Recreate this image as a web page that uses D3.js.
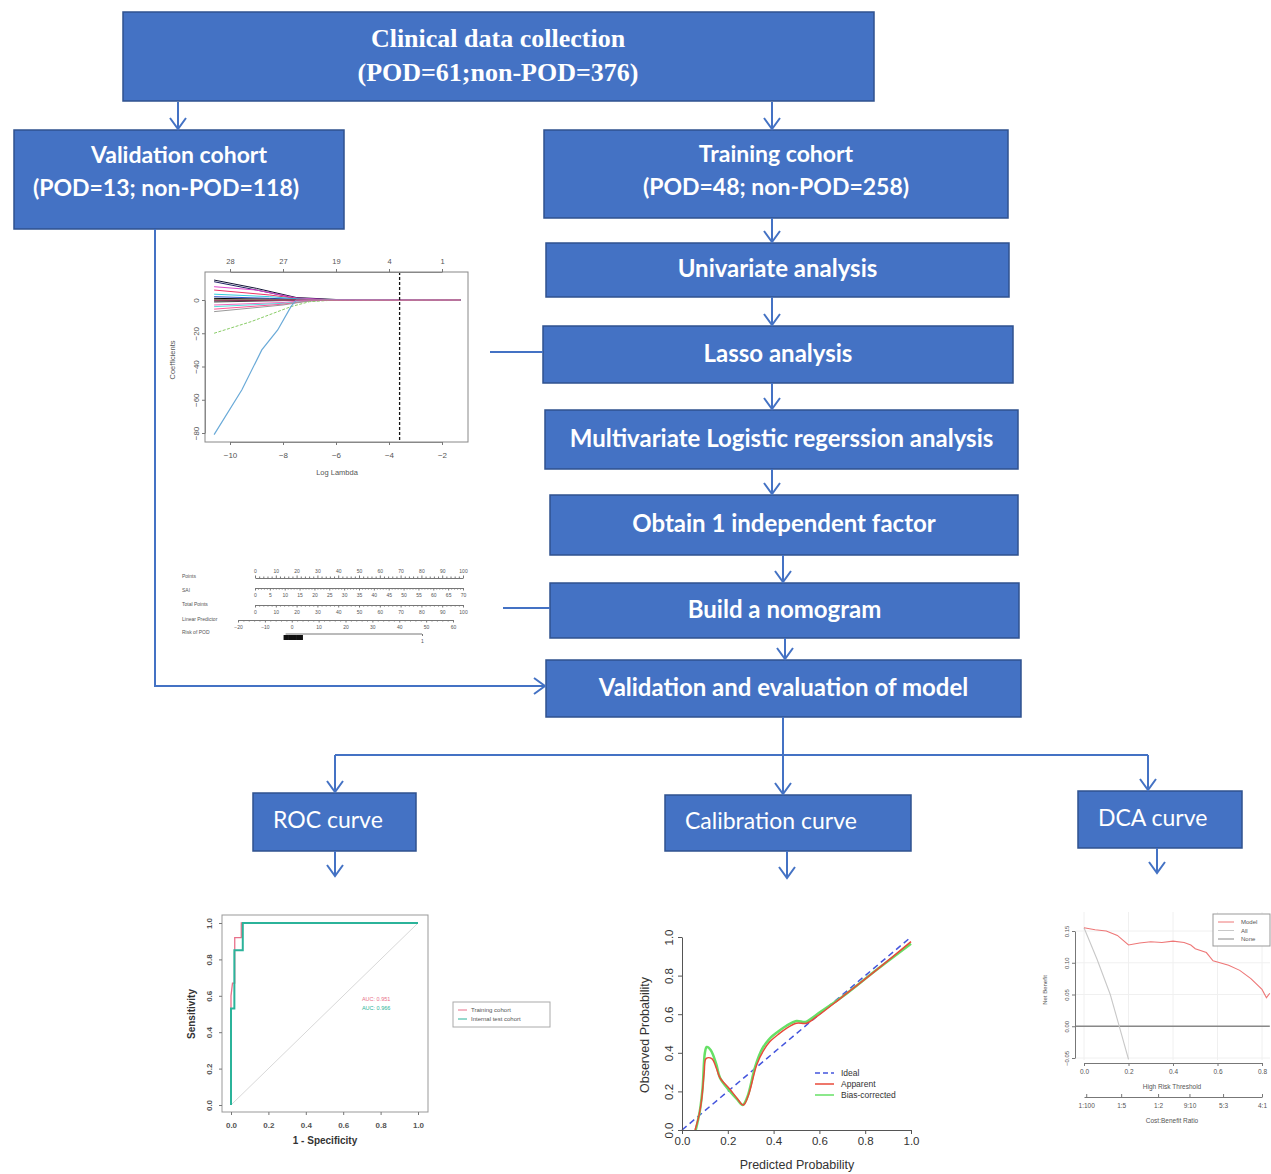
<!DOCTYPE html>
<html>
<head>
<meta charset="utf-8">
<script src="https://cdnjs.cloudflare.com/ajax/libs/d3/7.8.5/d3.min.js"></script>
<style>
body { margin: 0; background: #fff; }
svg text { font-family: "Liberation Sans", Arial, sans-serif; }
.box-text { font-family: Lato, "Open Sans", sans-serif; fill: #fff; }
.tiny text { fill: #555; }
.tiny path, .tiny line { stroke: #777; }
</style>
</head>
<body>
<div id="chart"></div>
<script>
// ---------- flow chart texts ----------
var headerLines = ["Clinical data collection", "(POD=61;non-POD=376)"];
var validationLines = ["Validation cohort", "(POD=13; non-POD=118)"];
var trainingLines = ["Training cohort", "(POD=48; non-POD=258)"];
var stepLabels = ["Univariate analysis", "Lasso analysis", "Multivariate Logistic regerssion analysis",
	"Obtain 1 independent factor", "Build a nomogram", "Validation and evaluation of model"];
var outcomeLabels = ["ROC curve", "Calibration curve", "DCA curve"];

// ---------- lasso coefficient paths ----------
var lassoTopLabels = ["28", "27", "19", "4", "1"];
var lassoXTicks = [-10, -8, -6, -4, -2];
var lassoYTicks = [0, -20, -40, -60, -80];
var lassoLambdaMin = -3.6;
var lassoPaths = [
	[[-10.6, 12], [-9, 7], [-7.5, 1.5], [-6, 0.3], [-1.3, 0]],
	[[-10.6, 11], [-9, 6], [-7.5, 1], [-6, 0], [-1.3, 0]],
	[[-10.6, 8], [-9, 6], [-7.5, 1.2], [-6, 0], [-1.3, 0]],
	[[-10.6, 6], [-8.5, 3], [-7.3, 0.5], [-6, 0], [-1.3, 0]],
	[[-10.6, 3.5], [-8.5, 2], [-7.3, 0.5], [-6, 0], [-1.3, 0]],
	[[-10.6, 2], [-8.5, 1], [-7.3, 0.3], [-1.3, 0]],
	[[-10.6, 1], [-7.5, 0.2], [-1.3, 0]],
	[[-10.6, 0.3], [-7.5, 0.1], [-1.3, 0]],
	[[-10.6, -0.5], [-7.5, -0.1], [-1.3, 0]],
	[[-10.6, -1.2], [-7.5, -0.2], [-1.3, 0]],
	[[-10.6, -3], [-8, -1.5], [-7, 0], [-1.3, 0]],
	[[-10.6, -4], [-8, -2], [-7, -0.5], [-6, 0], [-1.3, 0]],
	[[-10.6, -5.5], [-8, -2.5], [-7, -0.5], [-6, 0], [-1.3, 0]],
	[[-10.6, -7], [-8, -3], [-7, -0.5], [-6, 0], [-1.3, 0]],
	[[-10.6, -20], [-9.2, -13], [-7.7, -4], [-7, -1], [-6, 0], [-1.3, 0]],
	[[-10.6, -81], [-9.55, -54], [-8.8, -30], [-8.2, -18], [-7.7, -4], [-7.5, 0], [-6, 0.2], [-1.3, 0]],
	[[-10.6, 0], [-4, 0], [-1.3, 0]]
];
var lassoColors = ["#111133", "#222266", "#dd44cc", "#ee3366", "#33ccdd", "#3355cc", "#000000", "#22aa44",
	"#000000", "#444444", "#ee66bb", "#55dddd", "#ff5599", "#999999", "#88cc66", "#6aaad8", "#ee4488"];

// ---------- nomogram ----------
var nomoRows = ["Points", "SAI", "Total Points", "Linear Predictor", "Risk of POD"];
var pointsTicks = [0, 10, 20, 30, 40, 50, 60, 70, 80, 90, 100];
var saiTicks = [0, 5, 10, 15, 20, 25, 30, 35, 40, 45, 50, 55, 60, 65, 70];
var totalTicks = [0, 10, 20, 30, 40, 50, 60, 70, 80, 90, 100];
var lpTicks = [-20, -10, 0, 10, 20, 30, 40, 50, 60];
var riskTicks = [0.001, 0.005, 0.01, 0.02, 0.03, 0.04, 0.05, 0.06, 0.07, 0.08, 0.09, 0.1, 0.11];
var riskEnd = [1];

// ---------- ROC ----------
var rocTraining = [[0, 0], [0, 0.6], [0.008, 0.67], [0.02, 0.67], [0.02, 0.92], [0.055, 0.92], [0.055, 1], [1, 1]];
var rocTest = [[0, 0], [0, 0.53], [0.018, 0.53], [0.018, 0.85], [0.063, 0.85], [0.063, 1], [1, 1]];
var rocTicks = [0, 0.2, 0.4, 0.6, 0.8, 1.0];
var aucLabels = ["AUC: 0.951", "AUC: 0.966"];
var rocLegend = ["Training cohort", "Internal test cohort"];

// ---------- calibration ----------
var calApparent = [[0.057, 0], [0.075, 0.08], [0.086, 0.16], [0.097, 0.3], [0.105, 0.37], [0.13, 0.37],
	[0.15, 0.32], [0.166, 0.27], [0.21, 0.21], [0.24, 0.165], [0.268, 0.13], [0.29, 0.18], [0.326, 0.337],
	[0.355, 0.41], [0.384, 0.458], [0.42, 0.495], [0.456, 0.527], [0.5, 0.553], [0.544, 0.553],
	[0.588, 0.587], [0.7, 0.69], [0.85, 0.83], [1, 0.976]];
var calBias = [[0.06, 0], [0.078, 0.1], [0.09, 0.22], [0.1, 0.4], [0.108, 0.43], [0.125, 0.415],
	[0.15, 0.34], [0.166, 0.27], [0.21, 0.2], [0.24, 0.16], [0.265, 0.13], [0.285, 0.17], [0.32, 0.33],
	[0.35, 0.42], [0.38, 0.47], [0.42, 0.51], [0.456, 0.54], [0.5, 0.565], [0.54, 0.56],
	[0.59, 0.6], [0.7, 0.69], [0.85, 0.83], [1, 0.965]];
var calIdeal = [[0, 0], [1, 1]];
var calTicks = [0, 0.2, 0.4, 0.6, 0.8, 1.0];
var calLegend = ["Ideal", "Apparent", "Bias-corrected"];

// ---------- DCA ----------
var dcaModel = [[0, 0.155], [0.05, 0.152], [0.1, 0.15], [0.15, 0.143], [0.2, 0.128], [0.25, 0.131],
	[0.3, 0.133], [0.35, 0.132], [0.4, 0.134], [0.45, 0.132], [0.48, 0.128], [0.5, 0.122], [0.55, 0.116],
	[0.58, 0.103], [0.65, 0.096], [0.7, 0.088], [0.75, 0.075], [0.8, 0.058], [0.82, 0.045], [0.835, 0.052]];
var dcaAll = [[0, 0.155], [0.059, 0.105], [0.118, 0.05], [0.156, 0.003], [0.2, -0.052]];
var dcaNone = [[-0.04, 0], [0.835, 0]];
var dcaXTicks = [0, 0.2, 0.4, 0.6, 0.8];
var dcaYTicks = [-0.05, 0, 0.05, 0.10, 0.15];
var dcaCostLabels = ["1:100", "1:5", "1:2", "9:10", "5:3", "4:1"];
var dcaCostThresholds = [0.01, 0.167, 0.333, 0.474, 0.625, 0.8];
var dcaLegend = ["Model", "All", "None"];

// ============================================================
var W = 1271, H = 1174;
var blue = "#4472C4", edge = "#2F528F";

var svg = d3.select("#chart").append("svg")
	.attr("width", W)
	.attr("height", H);

function box(x, y, w, h) {
	svg.append("rect")
		.attr("x", x).attr("y", y)
		.attr("width", w).attr("height", h)
		.attr("fill", blue)
		.attr("stroke", edge)
		.attr("stroke-width", 1.5);
}

// cx may be one number or one per line
function boxText(lines, cx, ys, size, weight, family, anchor) {
	lines.forEach(function(t, i) {
		var el = svg.append("text")
			.attr("class", "box-text")
			.attr("x", Array.isArray(cx) ? cx[i] : cx).attr("y", ys[i])
			.attr("dy", "0.35em")
			.attr("text-anchor", anchor || "middle")
			.attr("font-size", size)
			.attr("font-weight", weight)
			.text(t);
		if (family) el.style("font-family", family);
	});
}

// line with open chevron head at the end
function arrow(pts, head) {
	svg.append("path")
		.attr("d", d3.line()(pts))
		.attr("fill", "none")
		.attr("stroke", blue)
		.attr("stroke-width", 2);
	if (!head) return;
	var p1 = pts[pts.length - 2], p2 = pts[pts.length - 1];
	var a = Math.atan2(p2[1] - p1[1], p2[0] - p1[0]);
	var L = 11, S = 8;
	var b1 = [p2[0] - L * Math.cos(a) + S * Math.sin(a), p2[1] - L * Math.sin(a) - S * Math.cos(a)];
	var b2 = [p2[0] - L * Math.cos(a) - S * Math.sin(a), p2[1] - L * Math.sin(a) + S * Math.cos(a)];
	svg.append("path")
		.attr("d", d3.line()([b1, p2, b2]))
		.attr("fill", "none")
		.attr("stroke", blue)
		.attr("stroke-width", 2);
}

// rotate left-axis tick labels like R (reading upwards)
function rotateLeft(sel, off) {
	sel.selectAll(".tick text")
		.attr("x", -off).attr("y", 0).attr("dy", "0em")
		.attr("text-anchor", "middle")
		.attr("transform", "rotate(-90," + (-off) + ",0)");
}

// ---------- boxes ----------
box(123, 12, 751, 89);
boxText(headerLines, 498, [38, 72], 26, "bold", "'Liberation Serif', 'Times New Roman', serif");

box(14, 130, 330, 99);
boxText(validationLines, [179, 166], [155, 188], 23, "bold");

box(544, 130, 464, 88);
boxText(trainingLines, 776, [154, 187], 23, "bold");

var stepBoxes = [
	[546, 243, 463, 54], [543, 326, 470, 57], [545, 410, 473, 59],
	[550, 495, 468, 60], [550, 583, 469, 55], [546, 660, 475, 57]
];
stepLabels.forEach(function(t, i) {
	var b = stepBoxes[i];
	box(b[0], b[1], b[2], b[3]);
	boxText([t], b[0] + b[2] / 2, [b[1] + b[3] / 2 - 1], 24, "bold");
});

var outBoxes = [[253, 793, 163, 58], [665, 795, 246, 56], [1078, 791, 164, 57]];
outcomeLabels.forEach(function(t, i) {
	var b = outBoxes[i];
	box(b[0], b[1], b[2], b[3]);
	boxText([t], b[0] + 20, [b[1] + b[3] / 2 - 2], 23, "normal", null, "start");
});

// ---------- arrows ----------
arrow([[178, 102], [178, 129]], true);
arrow([[772, 102], [772, 129]], true);
arrow([[772, 218], [772, 242]], true);
arrow([[772, 297], [772, 325]], true);
arrow([[772, 383], [772, 409]], true);
arrow([[772, 469], [772, 494]], true);
arrow([[783, 555], [783, 582]], true);
arrow([[785, 638], [785, 659]], true);
arrow([[155, 229], [155, 686], [545, 686]], true);
arrow([[490, 352], [543, 352]], false);
arrow([[503, 608], [550, 608]], false);
arrow([[783, 717], [783, 794]], true);
arrow([[335, 755], [1148, 755]], false);
arrow([[335, 755], [335, 792]], true);
arrow([[1148, 755], [1148, 790]], true);
arrow([[335, 851], [335, 876]], true);
arrow([[787, 851], [787, 878]], true);
arrow([[1157, 848], [1157, 873]], true);

// ---------- lasso plot ----------
(function() {
	var g = svg.append("g").attr("class", "tiny");
	var x = d3.scaleLinear().domain([-10, -2]).range([230, 442]);
	var y = d3.scaleLinear().domain([0, -80]).range([300, 433]);
	var line = d3.line().x(function(d) { return x(d[0]); }).y(function(d) { return y(d[1]); });

	lassoPaths.forEach(function(p, i) {
		g.append("path")
			.attr("d", line(p))
			.attr("fill", "none")
			.attr("stroke-width", i == 15 ? 1.2 : 1)
			.attr("stroke-dasharray", i == 14 ? "3,1.5" : null)
			.style("stroke", lassoColors[i]);
	});
	g.append("line")
		.attr("x1", x(lassoLambdaMin)).attr("x2", x(lassoLambdaMin))
		.attr("y1", 272).attr("y2", 442)
		.style("stroke", "#111")
		.attr("stroke-width", 1.3)
		.attr("stroke-dasharray", "3,2");
	g.append("rect")
		.attr("x", 205).attr("y", 272).attr("width", 263).attr("height", 170)
		.attr("fill", "none").attr("stroke", "#888");

	var xb = g.append("g").attr("transform", "translate(0,442)")
		.call(d3.axisBottom(x).tickValues(lassoXTicks).tickSize(3).tickSizeOuter(0));
	xb.selectAll("text").attr("font-size", 8).attr("dy", "1.2em");
	var xt = g.append("g").attr("transform", "translate(0,272)")
		.call(d3.axisTop(x).tickValues(lassoXTicks).tickSize(3).tickSizeOuter(0)
			.tickFormat(function(d, i) { return lassoTopLabels[i]; }));
	xt.selectAll("text").attr("font-size", 7.5).attr("dy", "-0.3em");
	var yl = g.append("g").attr("transform", "translate(205,0)")
		.call(d3.axisLeft(y).tickValues(lassoYTicks).tickSize(3).tickSizeOuter(0));
	yl.selectAll("text").attr("font-size", 8);
	rotateLeft(yl, 6);
	g.selectAll(".domain").style("stroke", "#888");

	g.append("text").attr("x", 337).attr("y", 475).attr("text-anchor", "middle")
		.attr("font-size", 7.5).text("Log Lambda");
	g.append("text").attr("transform", "translate(175,360) rotate(-90)")
		.attr("text-anchor", "middle").attr("font-size", 7.5).text("Coefficients");
})();

// ---------- nomogram ----------
(function() {
	var g = svg.append("g").attr("class", "tiny");
	var rowY = [576, 590, 604, 619, 632];
	nomoRows.forEach(function(t, i) {
		g.append("text").attr("x", 182).attr("y", rowY[i]).attr("dy", "0.35em")
			.attr("font-size", 5).text(t);
	});
	function minor(ticks, n) {
		var out = [];
		for (var i = 0; i < ticks.length - 1; i++) {
			for (var k = 1; k < n; k++) out.push(ticks[i] + (ticks[i + 1] - ticks[i]) * k / n);
		}
		return out;
	}
	function scaleRow(domain, range, ticks, yy, top, nMinor) {
		var s = d3.scaleLinear().domain(domain).range(range);
		var ax = top ? d3.axisTop(s) : d3.axisBottom(s);
		var a = g.append("g").attr("transform", "translate(0," + yy + ")")
			.call(ax.tickValues(ticks).tickSize(2.5).tickSizeOuter(0));
		a.selectAll("text").attr("font-size", 5);
		g.append("g").attr("transform", "translate(0," + yy + ")")
			.call((top ? d3.axisTop(s) : d3.axisBottom(s)).tickValues(minor(ticks, nMinor))
				.tickSize(1.5).tickSizeOuter(0).tickFormat(""))
			.select(".domain").remove();
		return s;
	}
	scaleRow([0, 100], [255, 463], pointsTicks, 578, true, 5);
	scaleRow([0, 70], [255, 463], saiTicks, 588, false, 5);
	scaleRow([0, 100], [255, 463], totalTicks, 605, false, 5);
	scaleRow([-20, 60], [238, 453], lpTicks, 620, false, 5);

	// risk axis: crowded ticks on the left form a dark blob
	var r = d3.scaleLinear().domain([0, 0.1, 1]).range([284, 300, 422]);
	var a = g.append("g").attr("transform", "translate(0,635)")
		.call(d3.axisBottom(r).tickValues(riskTicks).tickSize(5).tickSizeOuter(0).tickFormat(""));
	a.selectAll(".tick line").style("stroke", "#111").attr("stroke-width", 2.2);
	a.select(".domain").remove();
	var b = g.append("g").attr("transform", "translate(0,634)")
		.call(d3.axisBottom(r).tickValues(riskEnd).tickSize(2).tickSizeOuter(0).tickFormat(d3.format("d")));
	b.selectAll("text").attr("font-size", 5);
	b.select(".domain").remove();
	g.append("line").attr("x1", r(0.01)).attr("x2", r(1)).attr("y1", 634).attr("y2", 634)
		.style("stroke", "#777");
})();

// ---------- ROC ----------
(function() {
	var g = svg.append("g").attr("class", "tiny");
	var x = d3.scaleLinear().domain([0, 1]).range([231, 418]);
	var y = d3.scaleLinear().domain([0, 1]).range([1105, 923]);
	var line = d3.line().x(function(d) { return x(d[0]); }).y(function(d) { return y(d[1]); });

	g.append("rect").attr("x", 222).attr("y", 915).attr("width", 206).attr("height", 197)
		.attr("fill", "none").style("stroke", "#999");
	g.append("line").attr("x1", x(0)).attr("y1", y(0)).attr("x2", x(1)).attr("y2", y(1))
		.style("stroke", "#d8d8d8").attr("stroke-width", 1);
	g.append("path").attr("d", line(rocTraining)).attr("fill", "none")
		.style("stroke", "#e8708a").attr("stroke-width", 1.3);
	g.append("path").attr("d", line(rocTest)).attr("fill", "none")
		.style("stroke", "#2bb39a").attr("stroke-width", 2);

	var xa = g.append("g").attr("transform", "translate(0,1112)")
		.call(d3.axisBottom(x).tickValues(rocTicks).tickSize(3).tickSizeOuter(0)
			.tickFormat(d3.format(".1f")));
	xa.selectAll("text").attr("font-size", 8).attr("font-weight", "bold").attr("dy", "1.3em");
	var ya = g.append("g").attr("transform", "translate(222,0)")
		.call(d3.axisLeft(y).tickValues(rocTicks).tickSize(3).tickSizeOuter(0)
			.tickFormat(d3.format(".1f")));
	ya.selectAll("text").attr("font-size", 8).attr("font-weight", "bold");
	rotateLeft(ya, 10);
	g.selectAll(".domain").remove();

	g.append("text").attr("x", 325).attr("y", 1144).attr("text-anchor", "middle")
		.attr("font-size", 10).attr("font-weight", "bold").style("fill", "#333").text("1 - Specificity");
	g.append("text").attr("transform", "translate(195,1014) rotate(-90)")
		.attr("text-anchor", "middle").attr("font-size", 10).attr("font-weight", "bold")
		.style("fill", "#333").text("Sensitivity");

	var aucCol = ["#e8708a", "#2bb39a"];
	aucLabels.forEach(function(t, i) {
		g.append("text").attr("x", x(0.70)).attr("y", y(0.58 - i * 0.05)).attr("dy", "0.35em")
			.attr("font-size", 5.5).style("fill", aucCol[i]).text(t);
	});
	g.append("rect").attr("x", 453).attr("y", 1002).attr("width", 97).attr("height", 25)
		.attr("fill", "#fff").style("stroke", "#aaa");
	rocLegend.forEach(function(t, i) {
		var yy = 1010 + i * 9;
		g.append("line").attr("x1", 458).attr("x2", 467).attr("y1", yy).attr("y2", yy)
			.style("stroke", aucCol[i]);
		g.append("text").attr("x", 471).attr("y", yy).attr("dy", "0.35em")
			.attr("font-size", 6).text(t);
	});
})();

// ---------- calibration ----------
(function() {
	var g = svg.append("g");
	var x = d3.scaleLinear().domain([0, 1]).range([682, 911]);
	var y = d3.scaleLinear().domain([0, 1]).range([1130, 937]);
	var line = d3.line().x(function(d) { return x(d[0]); }).y(function(d) { return y(d[1]); })
		.curve(d3.curveCatmullRom);

	g.append("path").attr("d", line(calIdeal)).attr("fill", "none")
		.attr("stroke", "#4455dd").attr("stroke-width", 1.5).attr("stroke-dasharray", "6,4");
	g.append("path").attr("d", line(calBias)).attr("fill", "none")
		.attr("stroke", "#66e066").attr("stroke-width", 2.5);
	g.append("path").attr("d", line(calApparent)).attr("fill", "none")
		.attr("stroke", "#e84a3a").attr("stroke-width", 1.5);

	var xa = g.append("g").attr("transform", "translate(0,1130)")
		.call(d3.axisBottom(x).tickValues(calTicks).tickSize(4).tickSizeOuter(0)
			.tickFormat(d3.format(".1f")));
	xa.selectAll("text").attr("font-size", 11.5).attr("fill", "#333");
	var ya = g.append("g").attr("transform", "translate(682,0)")
		.call(d3.axisLeft(y).tickValues(calTicks).tickSize(4).tickSizeOuter(0)
			.tickFormat(d3.format(".1f")));
	ya.selectAll("text").attr("font-size", 11.5).attr("fill", "#333");
	rotateLeft(ya, 9);
	g.selectAll(".domain, .tick line").attr("stroke", "#555");

	g.append("text").attr("x", 797).attr("y", 1169).attr("text-anchor", "middle")
		.attr("font-size", 12.5).attr("fill", "#333").text("Predicted Probability");
	g.append("text").attr("transform", "translate(649,1035) rotate(-90)")
		.attr("text-anchor", "middle").attr("font-size", 12.5).attr("fill", "#333")
		.text("Observed Probability");

	var legCol = ["#4455dd", "#e84a3a", "#66e066"];
	calLegend.forEach(function(t, i) {
		var yy = 1073 + i * 11;
		g.append("line").attr("x1", 815).attr("x2", 834).attr("y1", yy).attr("y2", yy)
			.attr("stroke", legCol[i]).attr("stroke-width", 1.5)
			.attr("stroke-dasharray", i == 0 ? "5,3" : null);
		g.append("text").attr("x", 841).attr("y", yy).attr("dy", "0.35em")
			.attr("font-size", 8.5).attr("fill", "#333").text(t);
	});
})();

// ---------- DCA ----------
(function() {
	var g = svg.append("g").attr("class", "tiny");
	var x = d3.scaleLinear().domain([0, 0.8]).range([1084, 1262]);
	var y = d3.scaleLinear().domain([-0.05, 0.15]).range([1058, 931]);
	var line = d3.line().x(function(d) { return x(d[0]); }).y(function(d) { return y(d[1]); });

	dcaXTicks.forEach(function(t) {
		g.append("line").attr("x1", x(t)).attr("x2", x(t)).attr("y1", 912).attr("y2", 1060)
			.style("stroke", "#f0f0f0");
	});
	dcaYTicks.forEach(function(t) {
		g.append("line").attr("x1", 1076).attr("x2", 1270).attr("y1", y(t)).attr("y2", y(t))
			.style("stroke", "#f0f0f0");
	});
	g.append("path").attr("d", line(dcaNone)).attr("fill", "none")
		.style("stroke", "#888").attr("stroke-width", 1.3);
	g.append("path").attr("d", line(dcaAll)).attr("fill", "none")
		.style("stroke", "#c8c8c8").attr("stroke-width", 1.1);
	g.append("path").attr("d", line(dcaModel)).attr("fill", "none")
		.style("stroke", "#ee7777").attr("stroke-width", 1.1);

	var ya = g.append("g").attr("transform", "translate(1075,0)")
		.call(d3.axisLeft(y).tickValues(dcaYTicks).tickSize(3).tickSizeOuter(0)
			.tickFormat(d3.format(".2f")));
	ya.selectAll("text").attr("font-size", 6);
	rotateLeft(ya, 6);
	var xa = g.append("g").attr("transform", "translate(0,1063)")
		.call(d3.axisBottom(x).tickValues(dcaXTicks).tickSize(3).tickSizeOuter(0)
			.tickFormat(d3.format(".1f")));
	xa.selectAll("text").attr("font-size", 6.5);
	var ca = g.append("g").attr("transform", "translate(0,1097)")
		.call(d3.axisBottom(x).tickValues(dcaCostThresholds).tickSize(3).tickSizeOuter(0)
			.tickFormat(function(d, i) { return dcaCostLabels[i]; }));
	ca.selectAll("text").attr("font-size", 6.5);
	ca.selectAll(".tick line").attr("y2", -3);

	g.append("text").attr("x", 1172).attr("y", 1089).attr("text-anchor", "middle")
		.attr("font-size", 6.5).text("High Risk Threshold");
	g.append("text").attr("x", 1172).attr("y", 1123).attr("text-anchor", "middle")
		.attr("font-size", 6.5).text("Cost:Benefit Ratio");
	g.append("text").attr("transform", "translate(1047,990) rotate(-90)")
		.attr("text-anchor", "middle").attr("font-size", 6).text("Net Benefit");

	var legCol = ["#ee7777", "#c8c8c8", "#888"];
	g.append("rect").attr("x", 1213).attr("y", 914).attr("width", 57).attr("height", 32)
		.attr("fill", "#fff").style("stroke", "#999");
	dcaLegend.forEach(function(t, i) {
		var yy = 922 + i * 8.5;
		g.append("line").attr("x1", 1218).attr("x2", 1234).attr("y1", yy).attr("y2", yy)
			.style("stroke", legCol[i]);
		g.append("text").attr("x", 1241).attr("y", yy).attr("dy", "0.35em")
			.attr("font-size", 6).text(t);
	});
})();
</script>
</body>
</html>
